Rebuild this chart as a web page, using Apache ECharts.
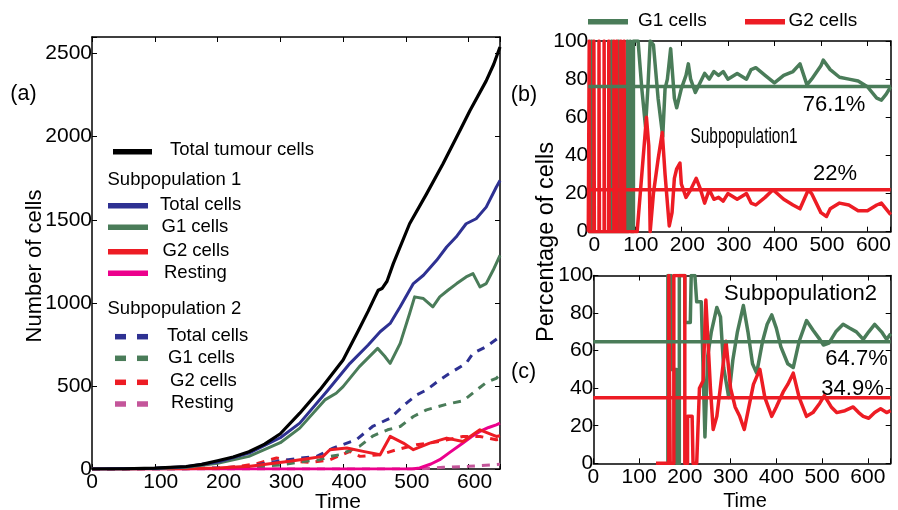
<!DOCTYPE html>
<html>
<head>
<meta charset="utf-8">
<script src="https://cdn.jsdelivr.net/npm/echarts@6/dist/echarts.min.js"></script>
<style>
  html, body { margin: 0; padding: 0; background: #fff; }
  #chart { width: 898px; height: 510px; }
</style>
</head>
<body>
<div id="chart"></div>
<script>
// ---------- Panel (a): cell counts over time ----------
const tumourT = [0, 50, 100, 150, 175, 200, 225, 250, 275, 300, 331, 363, 400, 424, 440, 450, 456, 462, 470, 480, 506, 533, 559, 586, 602, 628, 640, 650];
const tumourN = [0, 1, 5, 15, 28, 50, 72, 104, 150, 212, 336, 476, 656, 830, 950, 1030, 1076, 1086, 1130, 1236, 1476, 1656, 1836, 2036, 2156, 2336, 2436, 2540];

const sub1TotalT = [0, 100, 150, 200, 250, 300, 331, 376, 411, 440, 459, 475, 491, 512, 528, 549, 565, 580, 596, 612, 628, 644, 650];
const sub1TotalN = [0, 4, 13, 42, 96, 188, 276, 476, 636, 746, 826, 876, 976, 1116, 1166, 1256, 1336, 1396, 1476, 1506, 1576, 1696, 1736];

const sub1G1T = [0, 100, 150, 200, 250, 300, 331, 371, 389, 400, 426, 455, 466, 475, 491, 506, 514, 528, 543, 554, 567, 581, 596, 607, 618, 628, 639, 650];
const sub1G1N = [0, 3, 10, 35, 76, 158, 246, 416, 456, 496, 616, 726, 680, 636, 756, 936, 1036, 1026, 976, 1036, 1076, 1116, 1156, 1176, 1096, 1116, 1196, 1286];

const sub1G2T = [0, 150, 200, 252, 280, 315, 340, 368, 379, 406, 432, 459, 475, 496, 512, 538, 565, 591, 618, 644, 650];
const sub1G2N = [0, 2, 6, 16, 30, 46, 60, 76, 116, 126, 106, 86, 196, 156, 116, 156, 186, 166, 236, 196, 200];

const sub1RestT = [0, 510, 522, 540, 554, 570, 591, 605, 618, 632, 644, 650];
const sub1RestN = [0, 0, 6, 30, 56, 100, 156, 195, 226, 250, 266, 276];

const sub2TotalT = [0, 150, 200, 250, 294, 330, 358, 384, 421, 447, 475, 501, 517, 533, 554, 570, 596, 607, 628, 650];
const sub2TotalN = [0, 2, 6, 15, 46, 65, 76, 126, 176, 256, 306, 396, 446, 476, 536, 576, 636, 696, 736, 796];

const sub2G1T = [0, 200, 250, 300, 336, 363, 379, 395, 426, 448, 471, 491, 512, 533, 565, 591, 613, 628, 644, 650];
const sub2G1N = [0, 3, 8, 25, 45, 56, 76, 86, 136, 200, 236, 256, 316, 356, 390, 410, 476, 520, 546, 566];

const sub2G2T = [0, 200, 236, 260, 294, 320, 350, 379, 411, 427, 459, 485, 517, 554, 591, 618, 644, 650];
const sub2G2N = [0, 5, 16, 30, 66, 45, 40, 56, 106, 76, 86, 116, 146, 166, 196, 196, 176, 180];

const sub2RestT = [0, 520, 560, 600, 650];
const sub2RestN = [0, 0, 10, 16, 28];

// ---------- Panel (b): Subpopulation 1, percentage of cells ----------
const sub1PctG1T = [0, 7, 7, 8, 8, 50, 50, 51, 51, 65, 65, 66, 66, 84, 84, 86, 86, 90, 90, 92, 92, 97, 97,
  107, 115, 123, 128, 133, 140, 150, 160, 165, 170, 177, 185, 190, 200, 210, 215, 220, 230, 240, 250, 260, 270, 280, 290, 300,
  320, 340, 350, 360, 380, 400, 420, 440, 455, 470, 480, 500, 505, 520, 540, 560, 580, 600, 620, 630, 640, 650];
const sub1PctG1 = [0, 0, 100, 100, 0, 0, 100, 100, 0, 0, 100, 100, 0, 0, 100, 100, 0, 0, 100, 100, 0, 0, 100,
  100, 75, 55, 75, 100, 98, 70, 50, 75, 80, 96, 70, 65, 75, 82, 88, 80, 73, 78, 83, 80, 84, 82, 84, 80,
  83, 80, 85, 86, 82, 78, 82, 84, 88, 77, 80, 87, 90, 85, 81, 80, 79, 76, 70, 69, 72, 76];

const sub1PctG2T = [0, 2, 2, 3, 3, 12, 12, 13, 13, 23, 23, 24, 24, 34, 34, 35, 35, 44, 44, 45, 45, 55, 55, 56, 56,
  61, 61, 62, 62, 70, 70, 71, 71, 77, 77, 78, 78,
  105, 115, 125, 130, 133, 140, 150, 159, 165, 174, 180, 185, 190, 197, 200, 210, 220, 232, 240, 250, 260, 270, 280, 290, 300,
  320, 340, 350, 360, 380, 397, 420, 440, 455, 473, 480, 500, 512, 520, 540, 560, 580, 600, 620, 630, 640, 650];
const sub1PctG2 = [0, 0, 100, 100, 0, 0, 100, 100, 0, 0, 100, 100, 0, 0, 100, 100, 0, 0, 100, 100, 0, 0, 100, 100, 0,
  0, 100, 100, 0, 0, 100, 100, 0, 0, 100, 100, 0,
  0, 30, 60, 45, 0, 20, 38, 52, 30, 3, 10, 28, 33, 36, 25, 18, 22, 28, 23, 15, 22, 17, 18, 16, 20,
  17, 20, 15, 14, 18, 22, 17, 14, 12, 22, 20, 10, 8, 12, 15, 14, 11, 11, 14, 15, 12, 9];

const sub1MeanG1 = 76.1;
const sub1MeanG2 = 22;

// ---------- Panel (c): Subpopulation 2, percentage of cells ----------
const sub2PctG1T = [163, 163, 170, 170, 182, 182, 188, 188, 200, 200, 212, 214, 222, 226, 236, 244, 250, 258, 270, 278, 285, 296,
  305, 315, 328, 338, 348, 357, 370, 380, 390, 400, 410, 425, 437, 450, 466, 480, 495, 503, 515, 530, 546, 560, 575, 590, 602, 615, 630, 641, 650];
const sub2PctG1 = [0, 100, 100, 50, 50, 0, 0, 100, 100, 75, 75, 100, 100, 86, 86, 14, 57, 70, 83, 78, 51, 35,
  55, 70, 84, 70, 53, 48, 65, 74, 79, 72, 62, 53, 51, 65, 76, 71, 66, 63, 64, 70, 74, 72, 70, 66, 70, 74, 70, 66, 69];

const sub2PctG2T = [137, 165, 165, 168, 168, 176, 176, 200, 200, 206, 206, 216, 218, 226, 232, 240, 246, 250, 256, 262, 270, 280, 290,
  300, 310, 320, 330, 340, 350, 364, 375, 390, 400, 415, 425, 437, 450, 466, 480, 495, 505, 520, 532, 550, 568, 580, 590, 602, 615, 628, 641, 650];
const sub2PctG2 = [0, 0, 100, 100, 0, 0, 100, 100, 0, 0, 25, 25, 0, 0, 40, 44, 87, 87, 40, 18, 25, 45, 65,
  40, 30, 25, 18, 30, 42, 50, 35, 25, 30, 38, 42, 48, 35, 25, 27, 32, 36, 30, 27, 28, 30, 27, 25, 24, 27, 29, 27, 28];

const sub2MeanG1 = 64.7;
const sub2MeanG2 = 34.9;

const timeSpan = [0, 650];

// ---------- styling ----------
const FONT = '"Liberation Sans", Arial, sans-serif';
const C = {
  black: '#000000',
  blue: '#2e3192',
  green: '#4a7c59',
  red: '#ed1c24',
  magenta: '#ec008c',
  mauve: '#c4559a'
};

const zip = (xs, ys) => xs.map((x, i) => [x, ys[i]]);

// shift: how far (px) time labels sit to the right of their ticks; keepZero leaves "0" centred
function xPair(g, shift, keepZero) {
  const base = {
    type: 'value', gridIndex: g, min: 0, max: 650, interval: 100,
    axisLine: { show: true, onZero: false, lineStyle: { color: '#000', width: 1.5 } },
    axisTick: { show: true, inside: true, length: 5, lineStyle: { color: '#000', width: 1 } },
    splitLine: { show: false }
  };
  return [
    Object.assign({}, base, {
      position: 'bottom',
      axisLabel: {
        color: '#000', fontSize: 21, fontFamily: FONT, margin: 3,
        formatter: v => {
          if (v % 100 !== 0 || v > 600) return '';
          if (!shift || (keepZero && v === 0)) return '{n|' + v + '}';
          return '{s|' + v + '}';
        },
        rich: {
          n: { fontSize: 21, fontFamily: FONT, color: '#000' },
          s: { fontSize: 21, fontFamily: FONT, color: '#000', padding: [0, 0, 0, shift * 2] }
        }
      }
    }),
    Object.assign({}, base, { position: 'top', axisLabel: { show: false } })
  ];
}

function yPair(g, max, step, top) {
  const base = {
    type: 'value', gridIndex: g, min: 0, max: max, interval: step,
    axisLine: { show: true, onZero: false, lineStyle: { color: '#000', width: 1.5 } },
    axisTick: { show: true, inside: true, length: 5, lineStyle: { color: '#000', width: 1 } },
    splitLine: { show: false }
  };
  return [
    Object.assign({}, base, {
      position: 'left',
      axisLabel: {
        color: '#000', fontSize: 21, fontFamily: FONT, margin: 0,
        formatter: v => (v % step === 0 && v <= top ? String(v) : '')
      }
    }),
    Object.assign({}, base, { position: 'right', axisLabel: { show: false } })
  ];
}

function line(name, xi, t, v, color, width, dashed, z) {
  return {
    name: name, type: 'line', xAxisIndex: xi, yAxisIndex: xi,
    data: zip(t, v), showSymbol: false, symbol: 'none', animation: false,
    lineStyle: { color: color, width: width, type: dashed ? [8, 7] : 'solid', cap: 'butt', join: 'round' },
    z: z || 2
  };
}

// Legend and annotation helpers (graphic layer)
const g = [];
function gLine(x1, x2, y, color, dashed) {
  g.push({
    type: 'line', shape: { x1: x1, y1: y, x2: x2, y2: y }, silent: true,
    style: { stroke: color, lineWidth: 5.5, lineDash: dashed ? [11, 11] : null }
  });
}
function gText(text, x, y, size, align, rot, sx) {
  g.push({
    type: 'text', x: x, y: y, rotation: rot || 0, scaleX: sx || 1, silent: true,
    style: { text: text, x: 0, y: 0, font: size + 'px ' + FONT, fill: '#000', align: align || 'left', verticalAlign: 'middle' }
  });
}

// panel (a) legend
gLine(113, 152, 151.7, C.black);           gText('Total tumour cells', 170, 150, 18.5);
gText('Subpopulation 1', 107.5, 180, 18.5);
gLine(108, 148, 205.7, C.blue);            gText('Total cells', 160, 205, 18.5);
gLine(108, 148, 227.3, C.green);           gText('G1 cells', 161.5, 226.5, 18.5);
gLine(108, 148, 251.7, C.red);             gText('G2 cells', 162.5, 250.5, 18.5);
gLine(108, 148, 273.3, C.magenta);         gText('Resting', 164, 272.5, 18.5);
gText('Subpopulation 2', 107.5, 309, 18.5);
gLine(115, 148, 336.7, C.blue, true);      gText('Total cells', 167, 335.5, 18.5);
gLine(115, 148, 358.3, C.green, true);     gText('G1 cells', 168, 357.5, 18.5);
gLine(115, 148, 382.3, C.red, true);       gText('G2 cells', 170, 381, 18.5);
gLine(115, 148, 404, C.mauve, true);       gText('Resting', 171, 403, 18.5);

// panel (b) legend across the top
gLine(588, 628, 21.7, C.green);            gText('G1 cells', 638, 20.5, 19);
gLine(745, 785, 21.7, C.red);              gText('G2 cells', 788.5, 20.5, 19);

// titles and panel tags
gText('Number of cells', 35, 266, 22, 'center', Math.PI / 2);
gText('Percentage of cells', 547, 242, 23.5, 'center', Math.PI / 2);
gText('Time', 338, 502, 21, 'center');
gText('Time', 745, 501, 20, 'center');
gText('(a)', 23.5, 94, 21.5, 'center');
gText('(b)', 524, 95, 21.5, 'center');
gText('(c)', 523.5, 372, 21.5, 'center');

// in-panel annotations
gText('Subpopulation1', 744, 137, 22, 'center', 0, 0.7);
gText(sub1MeanG1 + '%', 834, 105, 22, 'center');
gText(sub1MeanG2 + '%', 835, 173.5, 22, 'center');
gText('Subpopulation2', 800.5, 293.5, 22, 'center');
gText(sub2MeanG1 + '%', 856.5, 359, 22, 'center');
gText(sub2MeanG2 + '%', 852.5, 389, 22, 'center');

const xs = [].concat(xPair(0, 6, true), xPair(1, 6, false), xPair(2, 0, false));
const ys = [].concat(yPair(0, 2600, 500, 2500), yPair(1, 100, 20, 100), yPair(2, 100, 20, 100));

const series = [
  // panel (a): dashed subpopulation 2 beneath solid subpopulation 1
  line('Sub2 Resting', 0, sub2RestT, sub2RestN, C.mauve, 3, true),
  line('Sub2 G2', 0, sub2G2T, sub2G2N, C.red, 3, true),
  line('Sub2 G1', 0, sub2G1T, sub2G1N, C.green, 3, true),
  line('Sub2 Total', 0, sub2TotalT, sub2TotalN, C.blue, 3, true),
  line('Sub1 Resting', 0, sub1RestT, sub1RestN, C.magenta, 3, false),
  line('Sub1 G2', 0, sub1G2T, sub1G2N, C.red, 3, false),
  line('Sub1 G1', 0, sub1G1T, sub1G1N, C.green, 3, false),
  line('Sub1 Total', 0, sub1TotalT, sub1TotalN, C.blue, 3, false),
  line('Total tumour cells', 0, tumourT, tumourN, C.black, 3.2, false),

  // panel (b)
  line('Sub1 G1 %', 2, sub1PctG1T, sub1PctG1, C.green, 3.5, false),
  line('Sub1 G2 %', 2, sub1PctG2T, sub1PctG2, C.red, 3.5, false),
  line('Sub1 G1 mean', 2, timeSpan, [sub1MeanG1, sub1MeanG1], C.green, 3.5, false, 3),
  line('Sub1 G2 mean', 2, timeSpan, [sub1MeanG2, sub1MeanG2], C.red, 3.5, false, 3),

  // panel (c)
  line('Sub2 G1 %', 4, sub2PctG1T, sub2PctG1, C.green, 3.5, false),
  line('Sub2 G2 %', 4, sub2PctG2T, sub2PctG2, C.red, 3.5, false),
  line('Sub2 G1 mean', 4, timeSpan, [sub2MeanG1, sub2MeanG1], C.green, 3.5, false, 3),
  line('Sub2 G2 mean', 4, timeSpan, [sub2MeanG2, sub2MeanG2], C.red, 3.5, false, 3)
];

const chart = echarts.init(document.getElementById('chart'), null, { renderer: 'canvas' });
chart.setOption({
  animation: false,
  backgroundColor: '#fff',
  grid: [
    { left: 92, top: 37, width: 408, height: 432 },
    { left: 588.3, top: 41, width: 302.4, height: 190.7 },
    { left: 593.3, top: 275.5, width: 297.4, height: 187.8 }
  ],
  xAxis: xs,
  yAxis: ys,
  series: series,
  graphic: g
});
</script>
</body>
</html>
